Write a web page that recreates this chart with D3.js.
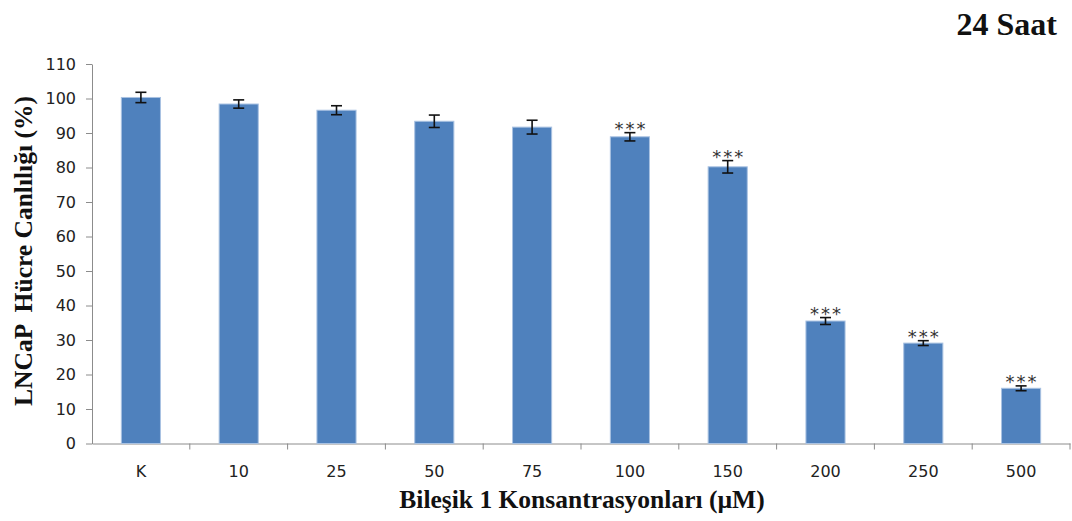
<!DOCTYPE html>
<html>
<head>
<meta charset="utf-8">
<script src="https://cdn.jsdelivr.net/npm/d3@7"></script>
<style>
  html, body { margin: 0; padding: 0; background: #fff; }
  svg { display: block; }
</style>
</head>
<body>
<svg id="chart" width="1072" height="521"></svg>
<script>
// Concentrations (µM) and mean viability (%) with error bar half-widths
const categories = ["K", "10", "25", "50", "75", "100", "150", "200", "250", "500"];
const viability = [100.3, 98.4, 96.6, 93.4, 91.7, 88.9, 80.2, 35.5, 29.1, 16.0];
const errors = [1.5, 1.2, 1.3, 1.8, 2.0, 1.2, 1.8, 1.0, 0.7, 0.7];
const significance = ["", "", "", "", "", "***", "***", "***", "***", "***"];
const yTicks = [0, 10, 20, 30, 40, 50, 60, 70, 80, 90, 100, 110];

const svg = d3.select("#chart");
const plotLeft = 92, plotRight = 1070, plotBottom = 443.5, plotTop = 64;

const x = d3.scaleBand()
  .domain(categories)
  .range([plotLeft, plotRight])
  .paddingInner(0.6)
  .paddingOuter(0.3);

const y = d3.scaleLinear().domain([0, 110]).range([plotBottom, plotTop]);

const axisColor = "#8c8c8c";
const tickFont = "'DejaVu Sans', Verdana, sans-serif";
const serif = "'Liberation Serif', 'Times New Roman', serif";

// Y axis
const yAxis = svg.append("g")
  .attr("transform", `translate(${plotLeft},0)`)
  .call(d3.axisLeft(y).tickValues(yTicks).tickSize(6).tickPadding(10).tickSizeOuter(0));
yAxis.select(".domain").attr("stroke", axisColor);
yAxis.selectAll(".tick line").attr("stroke", axisColor);
yAxis.selectAll(".tick text")
  .attr("font-family", tickFont)
  .attr("font-size", 16)
  .attr("fill", "#222");

// X axis: labels centred on bands, ticks on band boundaries
const xAxis = svg.append("g")
  .attr("transform", `translate(0,${plotBottom})`)
  .call(d3.axisBottom(x).tickSize(0).tickPadding(22).tickSizeOuter(0));
xAxis.select(".domain").attr("stroke", axisColor);
xAxis.selectAll(".tick text")
  .attr("font-family", tickFont)
  .attr("font-size", 16)
  .attr("fill", "#222");

const step = x.step();
const boundaries = d3.range(categories.length + 1).map(i => x(categories[0]) - x.paddingOuter() * step + i * step);
svg.append("g").selectAll("line")
  .data(boundaries.slice(1))
  .join("line")
  .attr("x1", d => d).attr("x2", d => d)
  .attr("y1", plotBottom).attr("y2", plotBottom + 6)
  .attr("stroke", axisColor);

// Bars
svg.append("g").selectAll("rect")
  .data(categories)
  .join("rect")
  .attr("x", d => x(d))
  .attr("width", x.bandwidth())
  .attr("y", (d, i) => y(viability[i]))
  .attr("height", (d, i) => y(0) - y(viability[i]))
  .attr("fill", "#4f81bd")
  .attr("stroke", "#a9c2e2")
  .attr("stroke-width", 1);

// Error bars
const capHalf = 5.5;
const eb = svg.append("g").attr("stroke", "#111").attr("stroke-width", 1.6);
categories.forEach((c, i) => {
  const cx = x(c) + x.bandwidth() / 2;
  const hi = y(viability[i] + errors[i]);
  const lo = y(viability[i] - errors[i]);
  eb.append("line").attr("x1", cx).attr("x2", cx).attr("y1", hi).attr("y2", lo);
  eb.append("line").attr("x1", cx - capHalf).attr("x2", cx + capHalf).attr("y1", hi).attr("y2", hi);
  eb.append("line").attr("x1", cx - capHalf).attr("x2", cx + capHalf).attr("y1", lo).attr("y2", lo);
});

// Significance markers
svg.append("g").selectAll("text")
  .data(categories)
  .join("text")
  .attr("x", d => x(d) + x.bandwidth() / 2 + 1)
  .attr("y", (d, i) => y(viability[i] + errors[i]) + 2.5)
  .attr("text-anchor", "middle")
  .attr("font-family", tickFont)
  .attr("font-size", 18)
  .attr("letter-spacing", 2)
  .attr("fill", "#333")
  .text((d, i) => significance[i]);

// Axis titles
svg.append("text")
  .attr("transform", "translate(32,251) rotate(-90)")
  .attr("text-anchor", "middle")
  .attr("font-family", serif)
  .attr("font-weight", "bold")
  .attr("font-size", 25.5)
  .attr("fill", "#111")
  .attr("xml:space", "preserve")
  .text("LNCaP  Hücre Canlılığı (%)");

svg.append("text")
  .attr("x", 582)
  .attr("y", 508)
  .attr("text-anchor", "middle")
  .attr("font-family", serif)
  .attr("font-weight", "bold")
  .attr("font-size", 25.5)
  .attr("fill", "#111")
  .text("Bileşik 1 Konsantrasyonları (µM)");

// Chart title
svg.append("text")
  .attr("x", 1057)
  .attr("y", 35)
  .attr("text-anchor", "end")
  .attr("font-family", serif)
  .attr("font-weight", "bold")
  .attr("font-size", 32)
  .attr("fill", "#111")
  .text("24 Saat");
</script>
</body>
</html>
